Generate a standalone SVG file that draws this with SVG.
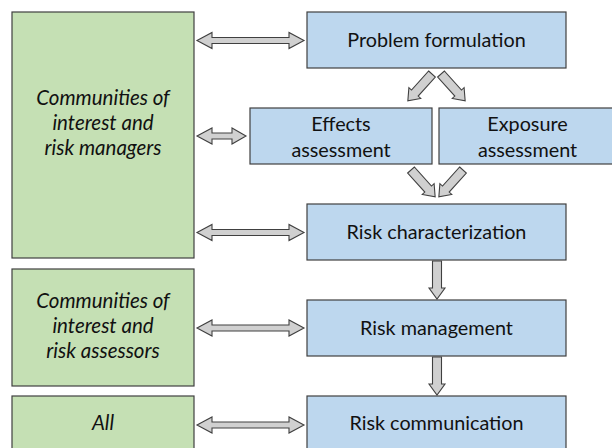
<svg xmlns="http://www.w3.org/2000/svg" width="612" height="448" viewBox="0 0 612 448">
<defs>
<style>
.g{fill:#c5e0b4;stroke:#404040;stroke-width:1.2}
.b{fill:#bdd7ee;stroke:#404040;stroke-width:1.2}
.a{fill:#d0d0d0;stroke:#404040;stroke-width:1.1;stroke-linejoin:miter}
.t{font-family:Lato,"Liberation Sans",sans-serif;font-size:19.8px;fill:#111111;text-anchor:middle}
.i{font-style:italic;font-size:20.5px}
</style>
<path id="dn" d="M-4.5,0 H4.5 V27 H8 L0,38 L-8,27 H-4.5 Z"/>
</defs>
<rect width="612" height="448" fill="#ffffff"/>
<g id="n-managers"><rect class="g" x="12" y="12" width="182" height="246"/>
<text class="t i" x="103" y="105">Communities of</text>
<text class="t i" x="103" y="130">interest and</text>
<text class="t i" x="103" y="155">risk managers</text></g>
<g id="n-assessors"><rect class="g" x="12" y="269" width="182" height="117"/>
<text class="t i" x="103" y="308">Communities of</text>
<text class="t i" x="103" y="333">interest and</text>
<text class="t i" x="103" y="358">risk assessors</text></g>
<g id="n-all"><rect class="g" x="12" y="396" width="182" height="60"/>
<text class="t i" x="103" y="430">All</text></g>
<g id="n-problem"><rect class="b" x="307" y="12" width="259" height="56"/>
<text class="t" x="436.5" y="47">Problem formulation</text></g>
<g id="n-effects"><rect class="b" x="250" y="108" width="182" height="56"/>
<text class="t" x="341" y="131">Effects</text>
<text class="t" x="341" y="157">assessment</text></g>
<g id="n-exposure"><rect class="b" x="439" y="108" width="178" height="56"/>
<text class="t" x="527.5" y="131">Exposure</text>
<text class="t" x="527.5" y="157">assessment</text></g>
<g id="n-char"><rect class="b" x="307" y="204" width="259" height="56"/>
<text class="t" x="436.5" y="239">Risk characterization</text></g>
<g id="n-mgmt"><rect class="b" x="307" y="300" width="259" height="56"/>
<text class="t" x="436.5" y="335">Risk management</text></g>
<g id="n-comm"><rect class="b" x="307" y="396" width="259" height="60"/>
<text class="t" x="436.5" y="430">Risk communication</text></g>
<g id="connectors">
<path class="a" d="M197,40.5 L212,32.5 V37.5 H289 V32.5 L304,40.5 L289,48.5 V43.5 H212 V48.5 Z"/>
<path class="a" d="M197,136 L212,128 V133 H232 V128 L246,136 L232,144 V139 H212 V144 Z"/>
<path class="a" d="M197,232.5 L212,224.5 V229.5 H289 V224.5 L304,232.5 L289,240.5 V235.5 H212 V240.5 Z"/>
<path class="a" d="M197,328 L212,320 V325 H289 V320 L304,328 L289,336 V331 H212 V336 Z"/>
<path class="a" d="M197,425 L212,417 V422 H289 V417 L304,425 L289,433 V428 H212 V433 Z"/>
<use class="a" href="#dn" transform="translate(437,261)"/>
<use class="a" href="#dn" transform="translate(437,357)"/>
<use class="a" href="#dn" transform="translate(432,74) rotate(42) scale(1,0.95)"/>
<use class="a" href="#dn" transform="translate(441,74) rotate(-42) scale(1,0.95)"/>
<use class="a" href="#dn" transform="translate(411,170) rotate(-42) scale(1,0.95)"/>
<use class="a" href="#dn" transform="translate(463,170) rotate(42) scale(1,0.95)"/>
</g>
</svg>
